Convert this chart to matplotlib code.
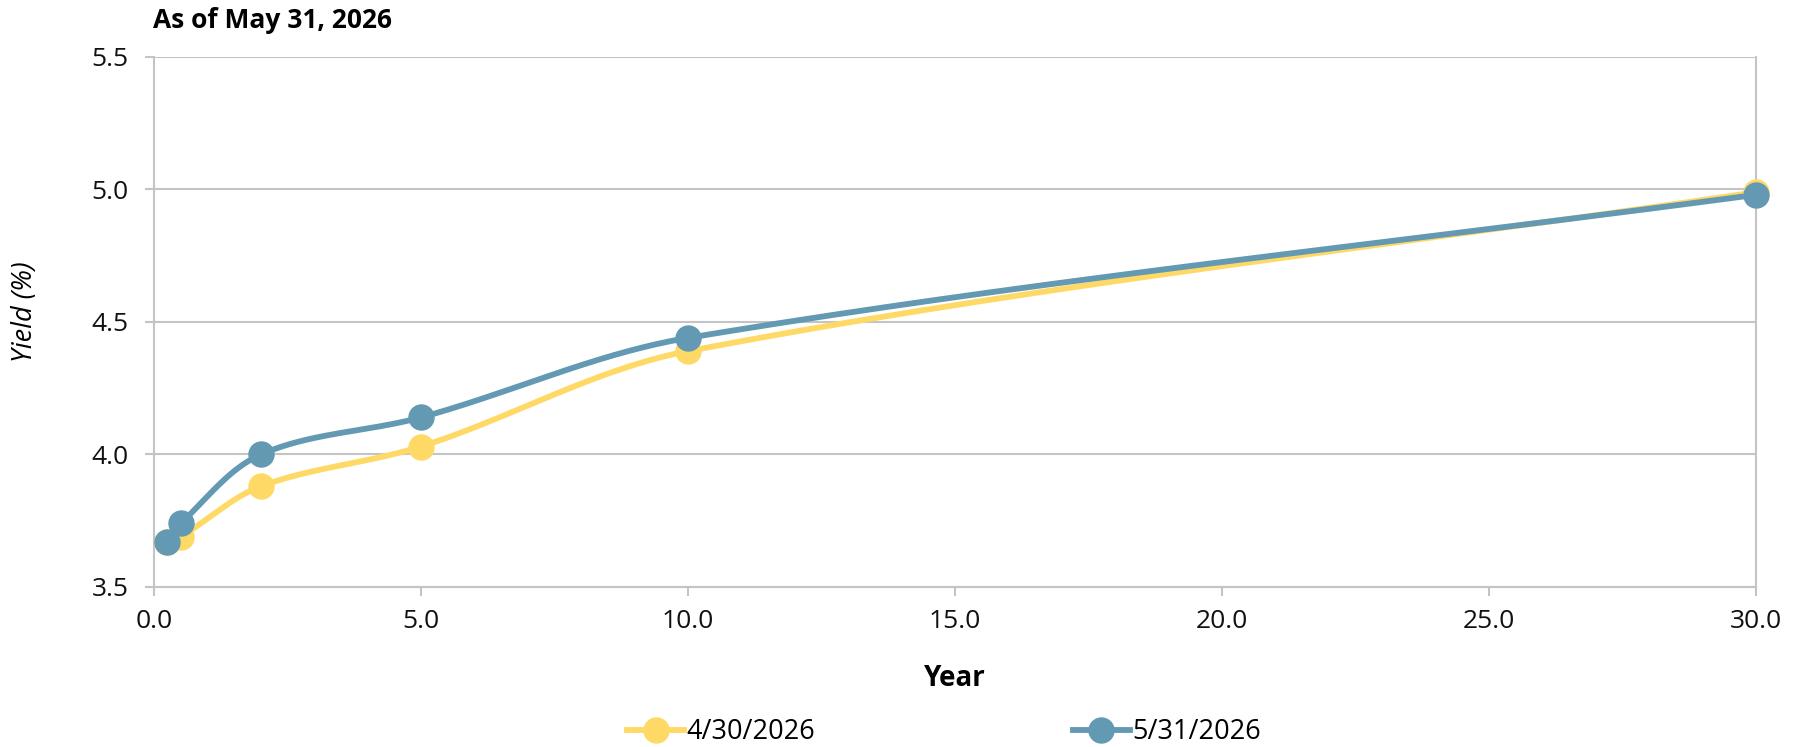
import numpy as np
import matplotlib.pyplot as plt
from matplotlib.lines import Line2D

plt.rcParams['font.family'] = ['Open Sans', 'DejaVu Sans']

# Treasury yield curve, two month-end snapshots
years = [0.25, 0.5, 2, 5, 10, 30]
yield_apr = [3.67, 3.69, 3.88, 4.03, 4.39, 4.99]
yield_may = [3.67, 3.74, 4.00, 4.14, 4.44, 4.98]
labels = ['4/30/2026', '5/31/2026']
colors = ['#FFD966', '#6399B2']

x_ticks = [0, 5, 10, 15, 20, 25, 30]
y_ticks = [3.5, 4.0, 4.5, 5.0, 5.5]
grid_col = '#C4C4C4'


def smooth_curve(x, y, sx, sy, n=60, k=1 / 3):
    # bezier through the points; tangent along neighbours, handle length tied to segment length
    pts = np.column_stack([np.asarray(x, float) * sx, np.asarray(y, float) * sy])
    out = []
    t = np.linspace(0, 1, n)[:, None]
    for i in range(len(pts) - 1):
        p0 = pts[i - 1] if i > 0 else pts[i]
        p1, p2 = pts[i], pts[i + 1]
        p3 = pts[i + 2] if i + 2 < len(pts) else pts[i + 1]
        seg = np.linalg.norm(p2 - p1)
        d1 = (p2 - p0) / np.linalg.norm(p2 - p0)
        d2 = (p3 - p1) / np.linalg.norm(p3 - p1)
        c1 = p1 + d1 * seg * k
        c2 = p2 - d2 * seg * k
        b = ((1 - t) ** 3) * p1 + 3 * ((1 - t) ** 2) * t * c1 + 3 * (1 - t) * t ** 2 * c2 + t ** 3 * p2
        out.append(b if i == 0 else b[1:])
    out = np.vstack(out)
    return out[:, 0] / sx, out[:, 1] / sy


fig = plt.figure(figsize=(18.02, 7.47), dpi=100)
ax = fig.add_axes([0.0855, 0.2142, 0.889, 0.7095])

# px per data unit, so the smoothing follows the drawn shape
sx = 1602 / 30
sy = 530 / 2.0
for vals, col in zip([yield_apr, yield_may], colors):
    cx, cy = smooth_curve(years, vals, sx, sy)
    ax.plot(cx, cy, color=col, lw=4.2, solid_capstyle='round', zorder=3, clip_on=False)
    ax.plot(years, vals, 'o', color=col, ms=18, mec=col, zorder=4, clip_on=False)

ax.set_xlim(0, 30)
ax.set_ylim(3.5, 5.5)
ax.set_xticks(x_ticks)
ax.set_xticklabels([f'{v:.1f}' for v in x_ticks])
ax.set_yticks(y_ticks)
ax.set_yticklabels([f'{v:.1f}' for v in y_ticks])

ax.grid(axis='y', color=grid_col, lw=1.5, zorder=0)
for s in ['left', 'right', 'bottom']:
    ax.spines[s].set_color(grid_col)
    ax.spines[s].set_linewidth(1.5)
ax.spines['top'].set_visible(False)
ax.tick_params(axis='both', direction='out', length=6.5, width=1.5, color=grid_col,
               labelsize=19, labelcolor='#111111')
ax.tick_params(axis='y', pad=12)
ax.tick_params(axis='x', pad=9)

fig.text(153 / 1802, 1 - 21 / 747, 'As of May 31, 2026', fontsize=19, fontweight='bold',
         ha='left', va='center')
fig.text(955 / 1802, 1 - 678 / 747, 'Year', fontsize=20, fontweight='bold',
         ha='center', va='center')
fig.text(25 / 1802, 1 - 312 / 747, 'Yield (%)', fontsize=19.5, style='italic',
         rotation=90, ha='center', va='center')

handles = [Line2D([], [], color=c, lw=4.2, marker='o', ms=18, mec=c) for c in colors]
fig.legend(handles, labels, loc='center', bbox_to_anchor=(944 / 1802, 1 - 732 / 747),
           ncol=2, frameon=False, fontsize=19.5, handlelength=2.1, handletextpad=0.1,
           columnspacing=9.5)

fig.savefig('out.png', dpi=100)
